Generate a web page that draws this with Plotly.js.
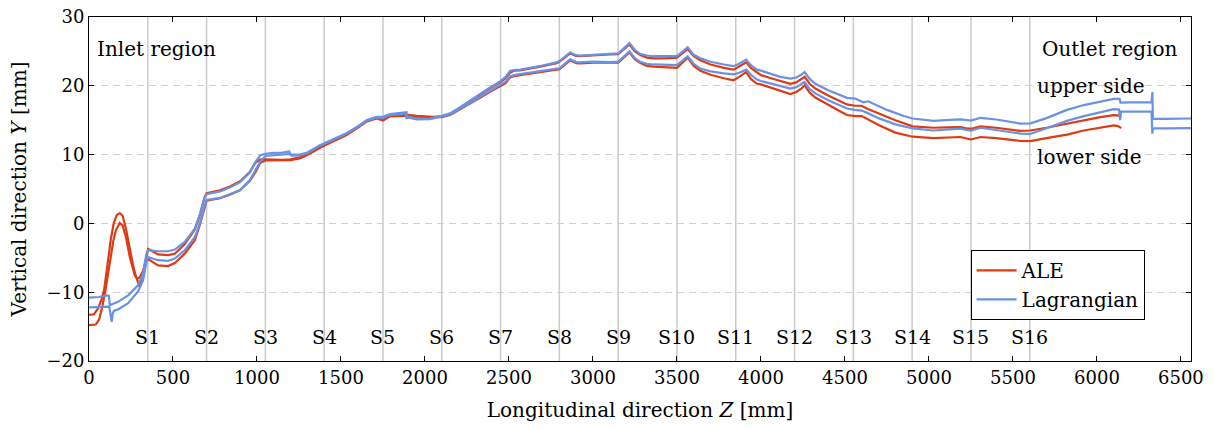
<!DOCTYPE html>
<html>
<head>
<meta charset="utf-8">
<script src="https://cdn.plot.ly/plotly-3.0.1.min.js"></script>
<style>
  html, body { margin: 0; padding: 0; background: #fff; }
  #chart { width: 1215px; height: 429px; }
</style>
</head>
<body>
<div id="chart"></div>
<script>
// Centreline profiles [Z in mm, Y in mm], upper and lower side for each method
const aleUpper = [[0,-13.3],[30,-13.2],[55,-12.3],[75,-11.0],[90,-9.7],[103,-7.3],[115,-4.9],[130,-2.3],[147,0.0],[165,1.2],[183,1.5],[200,1.1],[220,-0.8],[240,-3.5],[253,-4.9],[270,-6.9],[288,-8.5],[300,-9.2],[315,-7.8],[330,-6.0],[345,-4.2],[352,-3.7],[411,-4.5],[471,-4.6],[511,-4.4],[570,-3.0],[630,-0.9],[660,1.2],[689,3.9],[700,4.4],[780,4.8],[838,5.35],[898,6.1],[958,7.5],[990,8.8],[1020,9.3],[1050,9.3],[1100,9.25],[1150,9.25],[1200,9.3],[1255,9.6],[1300,10.1],[1375,11.1],[1450,12.0],[1533,12.95],[1600,14.0],[1652,14.9],[1712,15.35],[1750,15.05],[1792,15.65],[1850,15.8],[1891,15.8],[1950,15.65],[2000,15.55],[2050,15.5],[2100,15.55],[2150,15.9],[2209,16.8],[2270,17.8],[2328,18.8],[2390,19.7],[2447,20.5],[2480,21.1],[2506,21.9],[2530,22.2],[2566,22.25],[2645,22.55],[2700,22.85],[2784,23.3],[2800,23.5],[2864,24.7],[2900,24.35],[2923,24.3],[3000,24.45],[3100,24.55],[3150,24.6],[3217,26.0],[3250,25.0],[3280,24.5],[3320,24.1],[3360,24.0],[3430,24.0],[3500,24.1],[3564,25.35],[3600,24.3],[3639,23.7],[3700,23.1],[3780,22.6],[3837,22.35],[3870,22.8],[3912,23.4],[3940,22.6],[3976,22.0],[4000,21.55],[4060,21.1],[4115,20.7],[4175,20.3],[4210,20.5],[4240,21.0],[4260,21.3],[4290,20.3],[4324,19.6],[4400,18.6],[4470,17.8],[4512,17.3],[4560,17.1],[4600,17.1],[4630,16.7],[4700,16.0],[4800,15.0],[4903,14.1],[5028,13.9],[5100,13.95],[5187,14.0],[5230,13.8],[5251,13.75],[5307,14.1],[5400,13.9],[5545,13.45],[5604,13.5],[5700,13.9],[5822,14.5],[5922,15.0],[6020,15.45],[6100,15.75],[6125,15.7],[6145,15.45]];

const aleLower = [[0,-14.8],[40,-14.7],[60,-14.0],[80,-12.0],[98,-9.7],[114,-7.0],[129,-4.9],[145,-2.5],[160,-1.0],[183,0.05],[200,-0.3],[220,-2.0],[243,-4.9],[260,-6.5],[272,-7.5],[285,-8.0],[300,-7.9],[320,-7.0],[340,-5.6],[352,-5.2],[411,-6.1],[471,-6.2],[511,-5.75],[570,-4.4],[630,-2.45],[660,-0.2],[689,2.5],[700,3.3],[780,3.65],[838,4.15],[898,4.8],[958,6.2],[990,7.4],[1020,8.8],[1050,9.15],[1100,9.15],[1150,9.15],[1200,9.2],[1255,9.45],[1300,9.95],[1375,11.0],[1450,11.85],[1533,12.85],[1600,13.9],[1652,14.8],[1712,15.25],[1750,14.95],[1792,15.55],[1850,15.65],[1891,15.65],[1950,15.5],[2000,15.45],[2050,15.4],[2100,15.45],[2150,15.75],[2209,16.55],[2270,17.35],[2328,18.25],[2390,19.15],[2447,20.0],[2480,20.4],[2506,21.2],[2530,21.4],[2566,21.55],[2645,21.8],[2700,22.0],[2784,22.25],[2800,22.4],[2864,23.7],[2900,23.3],[2923,23.25],[3000,23.35],[3100,23.35],[3150,23.35],[3217,24.85],[3250,23.85],[3280,23.35],[3320,22.9],[3360,22.8],[3430,22.7],[3500,22.6],[3564,24.1],[3600,22.9],[3639,22.2],[3700,21.6],[3780,21.1],[3837,20.8],[3870,21.3],[3912,22.0],[3940,21.0],[3976,20.3],[4000,20.2],[4060,19.7],[4115,19.2],[4175,18.8],[4210,19.1],[4240,19.6],[4260,20.07],[4290,19.0],[4324,18.3],[4400,17.2],[4470,16.3],[4512,15.75],[4560,15.6],[4600,15.6],[4630,15.2],[4700,14.3],[4800,13.2],[4903,12.6],[5028,12.4],[5100,12.45],[5187,12.56],[5230,12.3],[5251,12.2],[5307,12.56],[5400,12.4],[5545,11.98],[5604,11.95],[5700,12.4],[5822,12.9],[5922,13.5],[6020,13.95],[6100,14.25],[6125,14.15],[6145,13.85]];

const lagUpper = [[0,-10.8],[60,-10.7],[110,-10.45],[118,-10.5],[124,-11.9],[135,-11.8],[173,-11.4],[233,-10.45],[292,-9.0],[322,-7.3],[342,-4.4],[352,-3.9],[411,-4.05],[471,-4.05],[511,-3.8],[570,-2.7],[630,-0.75],[660,1.3],[689,3.8],[700,4.25],[780,4.65],[838,5.2],[898,5.95],[958,7.4],[990,8.9],[1020,9.9],[1050,10.1],[1100,10.25],[1150,10.3],[1192,10.45],[1200,10.0],[1255,10.0],[1300,10.3],[1375,11.35],[1450,12.2],[1533,13.1],[1600,14.1],[1652,15.0],[1712,15.5],[1750,15.5],[1792,15.9],[1850,16.05],[1890,16.15],[1893,15.4],[1905,15.5],[1950,15.2],[2030,15.25],[2100,15.65],[2150,16.0],[2209,16.9],[2270,17.9],[2328,18.9],[2390,19.8],[2447,20.65],[2480,21.3],[2506,22.15],[2530,22.3],[2566,22.35],[2645,22.65],[2700,22.95],[2784,23.4],[2800,23.6],[2864,24.85],[2900,24.45],[2923,24.4],[3000,24.55],[3100,24.65],[3150,24.7],[3217,26.2],[3250,25.2],[3280,24.65],[3320,24.4],[3360,24.3],[3430,24.3],[3500,24.3],[3564,25.6],[3600,24.5],[3639,24.0],[3700,23.5],[3780,23.1],[3837,22.85],[3870,23.2],[3912,23.8],[3940,23.0],[3976,22.35],[4000,22.2],[4060,21.7],[4115,21.3],[4175,21.05],[4210,21.2],[4240,21.6],[4260,22.0],[4290,21.0],[4324,20.3],[4400,19.35],[4470,18.6],[4512,18.25],[4560,18.15],[4590,17.8],[4610,17.6],[4640,17.75],[4660,17.5],[4750,16.5],[4850,15.6],[4903,15.25],[5028,14.9],[5100,15.0],[5187,15.13],[5230,15.0],[5251,14.95],[5307,15.35],[5400,15.1],[5545,14.5],[5604,14.55],[5700,15.3],[5822,16.5],[5922,17.2],[6020,17.75],[6100,18.1],[6135,18.1],[6140,17.55],[6200,17.6],[6325,17.6],[6330,19.1],[6333,15.2],[6400,15.2],[6560,15.25]];

const lagLower = [[0,-12.2],[60,-12.15],[120,-12.1],[128,-13.2],[135,-14.3],[142,-13.0],[150,-12.7],[173,-12.5],[233,-11.6],[292,-9.9],[322,-8.3],[342,-5.6],[352,-4.9],[411,-5.35],[471,-5.45],[511,-5.1],[570,-3.9],[630,-2.0],[660,0.0],[689,2.6],[700,3.4],[780,3.7],[838,4.2],[898,4.8],[958,6.3],[990,7.6],[1020,9.0],[1050,9.8],[1100,9.9],[1150,9.95],[1196,10.1],[1205,9.85],[1255,9.9],[1300,10.2],[1375,11.3],[1450,12.1],[1533,13.05],[1600,14.0],[1652,14.9],[1712,15.4],[1750,15.3],[1792,15.75],[1850,15.9],[1885,15.95],[1890,15.3],[1905,15.35],[1950,15.1],[2030,15.15],[2100,15.55],[2150,15.85],[2209,16.7],[2270,17.5],[2328,18.4],[2390,19.3],[2447,20.2],[2480,20.6],[2506,21.35],[2530,21.55],[2566,21.7],[2645,21.95],[2700,22.15],[2784,22.4],[2800,22.55],[2864,23.85],[2900,23.45],[2923,23.4],[3000,23.5],[3100,23.45],[3150,23.5],[3217,25.0],[3250,24.0],[3280,23.5],[3320,23.2],[3360,23.1],[3430,23.0],[3500,23.0],[3564,24.3],[3600,23.2],[3639,22.5],[3700,22.1],[3780,21.8],[3837,21.65],[3870,21.9],[3912,22.35],[3940,21.6],[3976,20.9],[4000,20.7],[4060,20.3],[4115,19.9],[4175,19.6],[4210,19.8],[4240,20.2],[4260,20.55],[4290,19.5],[4324,18.9],[4400,17.9],[4470,17.2],[4512,16.7],[4560,16.5],[4600,16.4],[4630,16.1],[4700,15.3],[4800,14.4],[4903,13.8],[5028,13.5],[5100,13.6],[5187,13.77],[5230,13.55],[5251,13.5],[5307,13.9],[5400,13.6],[5545,13.05],[5604,13.0],[5700,13.8],[5822,14.9],[5922,15.6],[6020,16.2],[6100,16.6],[6132,16.55],[6138,15.0],[6143,16.25],[6200,16.25],[6325,16.25],[6330,13.05],[6333,13.8],[6400,13.8],[6560,13.85]];

// Cross-section stations along the channel
const sectionZ = [350, 700, 1050, 1400, 1750, 2100, 2450, 2800, 3150, 3500, 3850, 4200, 4550, 4900, 5250, 5600];
const sectionLabels = ['S1','S2','S3','S4','S5','S6','S7','S8','S9','S10','S11','S12','S13','S14','S15','S16'];

const RED = '#de3b14';
const BLUE = '#6a92e2';
const FONT = '"DejaVu Serif", "Liberation Serif", serif';
const TXT = 20;
const TICK = 18;

function line(points, name, color, group, show) {
  return {
    type: 'scatter', mode: 'lines',
    x: points.map(p => p[0]), y: points.map(p => p[1]),
    name: name, legendgroup: group, showlegend: show,
    line: { color: color, width: 2.2 }
  };
}

const traces = [
  line(aleUpper, 'ALE', RED, 'ale', true),
  line(aleLower, 'ALE', RED, 'ale', false),
  line(lagUpper, 'Lagrangian', BLUE, 'lag', true),
  line(lagLower, 'Lagrangian', BLUE, 'lag', false)
];

const shapes = sectionZ.map(z => ({
  type: 'line', xref: 'x', yref: 'paper', x0: z, x1: z, y0: 0, y1: 1,
  layer: 'below', line: { color: '#c9c9c9', width: 1.5 }
}));

const annotations = sectionZ.map((z, i) => ({
  x: z, y: -16.5, xref: 'x', yref: 'y', text: sectionLabels[i],
  showarrow: false, xanchor: 'center', yanchor: 'middle',
  font: { family: FONT, size: 19, color: '#000' }
}));

const notes = [
  { x: 35, y: 25.4, text: 'Inlet region', xanchor: 'left' },
  { x: 6495, y: 25.3, text: 'Outlet region', xanchor: 'right' },
  { x: 5630, y: 20.0, text: 'upper side', xanchor: 'left' },
  { x: 5630, y: 9.7, text: 'lower side', xanchor: 'left' }
];
notes.forEach(n => annotations.push({
  x: n.x, y: n.y, xref: 'x', yref: 'y', text: n.text, showarrow: false,
  xanchor: n.xanchor, yanchor: 'middle',
  font: { family: FONT, size: TXT, color: '#000' }
}));

const layout = {
  width: 1215, height: 429,
  margin: { l: 89, r: 24, t: 17, b: 68, pad: 0 },
  paper_bgcolor: '#fff', plot_bgcolor: '#fff',
  font: { family: FONT, size: TXT, color: '#000' },
  showlegend: true,
  legend: {
    x: 0.8, y: 0.323, xanchor: 'left', yanchor: 'top',
    bgcolor: '#fff', bordercolor: '#000', borderwidth: 1,
    traceorder: 'grouped', tracegroupgap: 0, itemwidth: 40,
    font: { family: FONT, size: TXT, color: '#000' }
  },
  xaxis: {
    range: [0, 6560], tick0: 0, dtick: 500,
    ticks: 'inside', ticklen: 5, tickcolor: '#000', tickwidth: 1,
    showline: true, linecolor: '#000', linewidth: 1, mirror: 'ticks',
    showgrid: false, zeroline: false,
    tickfont: { family: FONT, size: TICK, color: '#000' },
    title: { text: 'Longitudinal direction <i>Z</i> [mm]', standoff: 16,
             font: { family: FONT, size: TXT, color: '#000' } }
  },
  yaxis: {
    range: [-20, 30], tick0: -20, dtick: 10,
    ticks: 'inside', ticklen: 5, tickcolor: '#000', tickwidth: 1,
    showline: true, linecolor: '#000', linewidth: 1, mirror: 'ticks',
    showgrid: true, gridcolor: '#cfcfcf', gridwidth: 1, griddash: '7px,5px',
    zeroline: false,
    tickfont: { family: FONT, size: TICK, color: '#000' },
    title: { text: 'Vertical direction <i>Y</i> [mm]', standoff: 14,
             font: { family: FONT, size: TXT, color: '#000' } }
  },
  shapes: shapes,
  annotations: annotations
};

Plotly.newPlot('chart', traces, layout, { staticPlot: true, displayModeBar: false });
</script>
</body>
</html>
